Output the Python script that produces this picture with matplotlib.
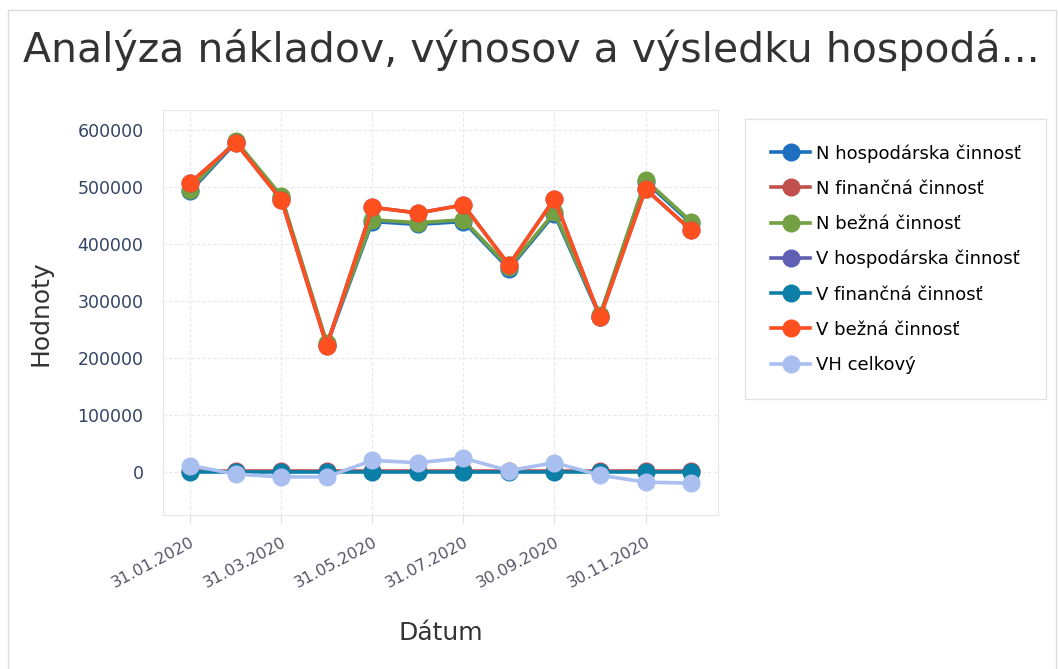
import matplotlib.pyplot as plt
from matplotlib.patches import Rectangle

# monthly closing dates
dates = ["31.01.2020", "29.02.2020", "31.03.2020", "30.04.2020", "31.05.2020", "30.06.2020",
         "31.07.2020", "31.08.2020", "30.09.2020", "31.10.2020", "30.11.2020", "31.12.2020"]

n_fin = [3000, 3000, 3000, 3000, 3000, 3000, 3000, 3000, 3000, 3000, 3000, 3000]
n_bez = [496000, 582000, 485000, 227000, 443000, 438000, 443000, 360000, 456000, 276000, 513000, 440000]
n_hosp = [493000, 579000, 482000, 224000, 440000, 435000, 440000, 357000, 453000, 273000, 510000, 437000]
v_fin = [0, 0, 0, 0, 0, 0, 0, 0, 0, 0, 0, 0]
v_bez = [508000, 578000, 478000, 222000, 465000, 455000, 469000, 364000, 480000, 272000, 497000, 425000]
v_hosp = [508000, 578000, 478000, 222000, 465000, 455000, 469000, 364000, 480000, 272000, 497000, 425000]
vh = [12000, -3000, -8000, -8000, 21000, 17000, 25000, 3000, 17000, -5000, -17000, -19000]

series = [
    ("N hospodárska činnosť", n_hosp, "#1f6fc0"),
    ("N finančná činnosť", n_fin, "#c0504d"),
    ("N bežná činnosť", n_bez, "#72a043"),
    ("V hospodárska činnosť", v_hosp, "#5f5fb3"),
    ("V finančná činnosť", v_fin, "#0b7fa8"),
    ("V bežná činnosť", v_bez, "#ff4f1f"),
    ("VH celkový", vh, "#a9bff0"),
]

plt.rcParams["font.family"] = ["DejaVu Sans"]

fig = plt.figure(figsize=(10.58, 6.69), dpi=100)
fig.patches.append(Rectangle((0.008, -0.01), 0.99, 0.995, transform=fig.transFigure,
                             fill=False, edgecolor="#dddddd", linewidth=1))
fig.text(0.022, 0.925, "Analýza nákladov, výnosov a výsledku hospodá...",
         fontsize=29.5, color="#333333", va="center", ha="left")

ax = fig.add_axes([0.154, 0.23, 0.525, 0.605])
x = list(range(len(dates)))
for name, vals, col in series:
    ax.plot(x, vals, color=col, marker="o", markersize=12, linewidth=2.6, label=name)

ax.set_xlim(-0.6, 11.6)
ax.set_ylim(-75000, 635000)
ax.set_yticks(range(0, 600001, 100000))
ax.set_xticks(x[::2])
ax.set_xticklabels(dates[::2], rotation=28, ha="right", rotation_mode="anchor",
                   fontsize=11.5, color="#555566")
ax.tick_params(axis="y", labelsize=12.5, labelcolor="#334466", length=0, pad=14)
ax.tick_params(axis="x", length=6, color="#dddddd", pad=8)
ax.grid(True, color="#ece6ee", linestyle=(0, (3, 2)), linewidth=0.8)
ax.set_axisbelow(True)
for s in ax.spines.values():
    s.set_color("#e6e6e6")
ax.set_ylabel("Hodnoty", fontsize=18, color="#333333", labelpad=18)
ax.set_xlabel("Dátum", fontsize=18, color="#333333", labelpad=22)

leg = fig.legend(loc="upper left", bbox_to_anchor=(0.696, 0.836), fontsize=13,
                 frameon=True, borderpad=1.4, labelspacing=0.95, handlelength=2.2,
                 handletextpad=0.3, fancybox=False, edgecolor="#dddddd")
for h in leg.legend_handles:
    h.set_markersize(12)

fig.savefig("out.png", dpi=100)
